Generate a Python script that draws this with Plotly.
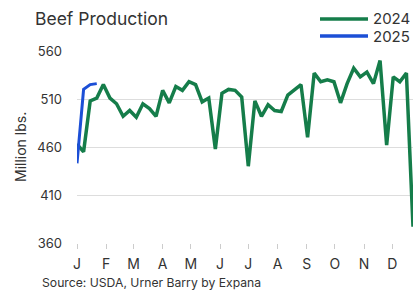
import plotly.graph_objects as go
import pandas as pd

title = "Beef Production"
source = "Source: USDA, Urner Barry by Expana"
y_title = "Million lbs."
series_names = ["2024", "2025"]
month_labels = ["J", "F", "M", "A", "M", "J", "J", "A", "S", "O", "N", "D"]
y_ticks = [360, 410, 460, 510, 560]

values_2024 = [463, 455, 508, 511, 525, 511, 505, 492, 498, 491,
               505, 500, 492, 519, 506, 523, 519, 528, 525, 507,
               511, 458, 516, 520, 519, 512, 440, 508, 492, 504,
               498, 497, 514, 519, 525, 470, 537, 528, 530, 528,
               506, 526, 542, 533, 538, 526, 550, 462, 533, 528,
               537, 377]
values_2025 = [443, 520, 525, 526]

dates_2024 = pd.date_range("2024-01-01", periods=len(values_2024), freq="7D")
dates_2025 = pd.date_range("2024-01-01", periods=len(values_2025), freq="7D")
month_ticks = pd.date_range("2024-01-01", periods=12, freq="MS")

green = "#157d4a"
blue = "#1c4fd6"
text_col = "#333333"

fig = go.Figure()
fig.add_trace(go.Scatter(x=dates_2024, y=values_2024, mode="lines", name=series_names[0],
                         line=dict(color=green, width=3.5), cliponaxis=False))
fig.add_trace(go.Scatter(x=dates_2025, y=values_2025, mode="lines", name=series_names[1],
                         line=dict(color=blue, width=3), cliponaxis=False))

W, H = 413, 291
L, R, T, B = 77, 0, 51, 48
pw = W - L - R
ph = H - T - B

def px(x):
    return (x - L) / pw

def py(y):
    return 1 - (y - T) / ph

fig.update_layout(
    width=W, height=H,
    margin=dict(l=L, r=R, t=T, b=B),
    paper_bgcolor="white", plot_bgcolor="white",
    showlegend=False,
    font=dict(family="Inter", color=text_col),
    xaxis=dict(range=[pd.Timestamp("2024-01-01"), pd.Timestamp("2024-12-23")],
               tickvals=month_ticks, ticktext=month_labels,
               showgrid=False, zeroline=False, showline=False,
               ticks="outside", ticklen=5, tickcolor="#cccccc", tickwidth=1,
               tickfont=dict(size=14, color=text_col), ticklabelstandoff=3),
    yaxis=dict(range=[360, 560], tickvals=y_ticks,
               showgrid=True, gridcolor="#dddddd", gridwidth=1,
               zeroline=False, showline=False,
               tickfont=dict(size=13, color=text_col), ticklabelstandoff=14),
)

annotations = [
    dict(text=title, x=px(33), y=py(19), xref="paper", yref="paper",
         xanchor="left", yanchor="middle", showarrow=False,
         font=dict(size=17.5, color=text_col)),
    dict(text=y_title, x=px(20), y=py(147), xref="paper", yref="paper",
         xanchor="center", yanchor="middle", textangle=-90, showarrow=False,
         font=dict(size=14, color=text_col)),
    dict(text=source, x=px(40), y=py(282), xref="paper", yref="paper",
         xanchor="left", yanchor="middle", showarrow=False,
         font=dict(size=12.2, color=text_col)),
]
shapes = []
for name, col, yy in [(series_names[0], green, 19), (series_names[1], blue, 36)]:
    shapes.append(dict(type="line", xref="paper", yref="paper",
                       x0=px(320), x1=px(368), y0=py(yy), y1=py(yy),
                       line=dict(color=col, width=3.5)))
    annotations.append(dict(text=name, x=px(371), y=py(yy), xref="paper", yref="paper",
                            xanchor="left", yanchor="middle", showarrow=False,
                            font=dict(size=15, color=text_col)))
fig.update_layout(annotations=annotations, shapes=shapes)

fig.write_html("out.html", config={"displayModeBar": False},
               post_script="document.body.style.margin='0';document.body.style.overflow='hidden';")
